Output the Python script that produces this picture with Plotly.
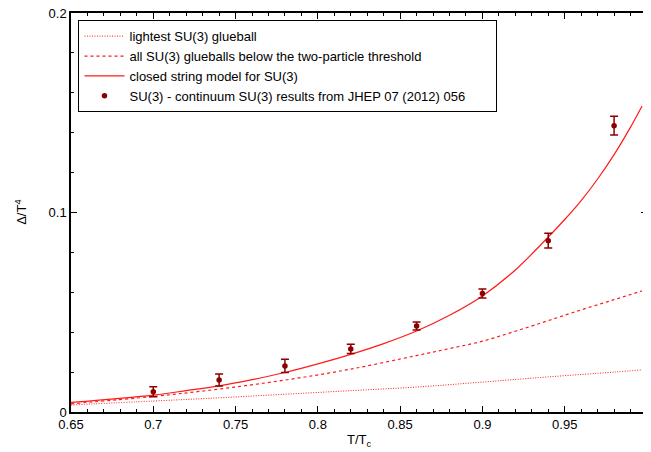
import plotly.graph_objects as go

# curve sample points
solid_x = [0.65, 0.70, 0.72, 0.74, 0.76, 0.78, 0.80, 0.82, 0.84, 0.86, 0.88, 0.90, 0.92, 0.94,
           0.95, 0.96, 0.97, 0.98, 0.99, 0.997]
closed_string = [0.0048, 0.0085, 0.0107, 0.0131, 0.0162, 0.0198, 0.0241, 0.0289, 0.0343, 0.0406,
                 0.0485, 0.0582, 0.0712, 0.0877, 0.0965, 0.1060, 0.1168, 0.1290, 0.1428, 0.1534]

dashed_x = [0.65, 0.70, 0.74, 0.78, 0.82, 0.86, 0.88, 0.90, 0.92, 0.94, 0.96, 0.98, 0.997]
all_below = [0.0041, 0.0078, 0.0115, 0.0160, 0.0215, 0.0283, 0.0318, 0.0355, 0.0405, 0.0458,
             0.0512, 0.0563, 0.0607]

dotted_x = [0.65, 0.70, 0.74, 0.78, 0.82, 0.86, 0.90, 0.94, 0.98, 0.997]
lightest = [0.0035, 0.0055, 0.0071, 0.0089, 0.0107, 0.0125, 0.0150, 0.0176, 0.0200, 0.0211]

# lattice data
data_x = [0.70, 0.74, 0.78, 0.82, 0.86, 0.90, 0.94, 0.98]
data_y = [0.0102, 0.0160, 0.0231, 0.0316, 0.0431, 0.0594, 0.0859, 0.1435]
data_err = [0.0025, 0.0030, 0.0033, 0.0023, 0.0020, 0.0022, 0.0037, 0.0047]

x_ticks = [0.65, 0.7, 0.75, 0.8, 0.85, 0.9, 0.95]
x_tick_labels = ["0.65", "0.7", "0.75", "0.8", "0.85", "0.9", "0.95"]
x_last_tick = 1.0
x_last_label = "1"
y_ticks = [0, 0.1, 0.2]
y_tick_labels = ["0", "0.1", "0.2"]

RED = "#ff1a1a"
DARK = "#8b0000"
PAD = "&nbsp;" * 7

fig = go.Figure()
fig.add_trace(go.Scatter(x=dotted_x, y=lightest, mode="lines", name="lightest SU(3) glueball",
                         line=dict(color=RED, width=1, dash="1px,1.5px", shape="spline")))
fig.add_trace(go.Scatter(x=dashed_x, y=all_below, mode="lines",
                         name="all SU(3) glueballs below the two-particle threshold",
                         line=dict(color=RED, width=1.2, dash="3px,3px", shape="spline")))
fig.add_trace(go.Scatter(x=solid_x, y=closed_string, mode="lines", name="closed string model for SU(3)",
                         line=dict(color=RED, width=1.2, shape="spline")))
fig.add_trace(go.Scatter(x=data_x, y=data_y, mode="markers",
                         name="SU(3) - continuum SU(3) results from JHEP 07 (2012) 056" + PAD,
                         marker=dict(color=DARK, size=5.5),
                         error_y=dict(type="data", array=data_err, color=DARK, thickness=1.5, width=4)))

axis_common = dict(showline=True, linecolor="black", linewidth=1.5, mirror="ticks",
                   ticks="inside", ticklen=6, tickcolor="black", showgrid=False, zeroline=False,
                   automargin=False, ticklabeloverflow="allow",
                   tickfont=dict(size=13, color="black"))

# the page body has an 8px margin, so the figure is 8px smaller than the window
fig.update_layout(
    width=643, height=444,
    margin=dict(l=63, r=4, t=5, b=40),
    paper_bgcolor="white", plot_bgcolor="white",
    font=dict(family="Liberation Sans, Arial, sans-serif", size=13, color="black"),
    xaxis=dict(range=[0.65, 1.0], tickvals=x_ticks, ticktext=x_tick_labels,
               minor=dict(dtick=0.01, tick0=0.65, ticks="inside", ticklen=3, tickcolor="black"),
               **axis_common),
    yaxis=dict(range=[0, 0.2], tickvals=y_ticks, ticktext=y_tick_labels,
               minor=dict(dtick=0.02, tick0=0, ticks="inside", ticklen=3, tickcolor="black"),
               **axis_common),
    legend=dict(x=0.013, y=0.982, xanchor="left", yanchor="top", bgcolor="white",
                bordercolor="black", borderwidth=1, font=dict(size=13), tracegroupgap=0,
                itemwidth=40),
    showlegend=True,
    annotations=[
        dict(text="T/T<sub>c</sub>", xref="paper", yref="paper", x=0.5, y=-0.045,
             xanchor="center", yanchor="top", showarrow=False, font=dict(size=13)),
        dict(text="Δ/T<sup>4</sup>", xref="paper", yref="paper", x=-0.088, y=0.5,
             xanchor="center", yanchor="middle", textangle=-90, showarrow=False, font=dict(size=13)),
        dict(text=x_last_label, xref="x", yref="paper", x=x_last_tick, y=0, xanchor="center",
             yanchor="top", yshift=-4, showarrow=False, font=dict(size=13)),
    ],
)

fig.write_html("out.html")
